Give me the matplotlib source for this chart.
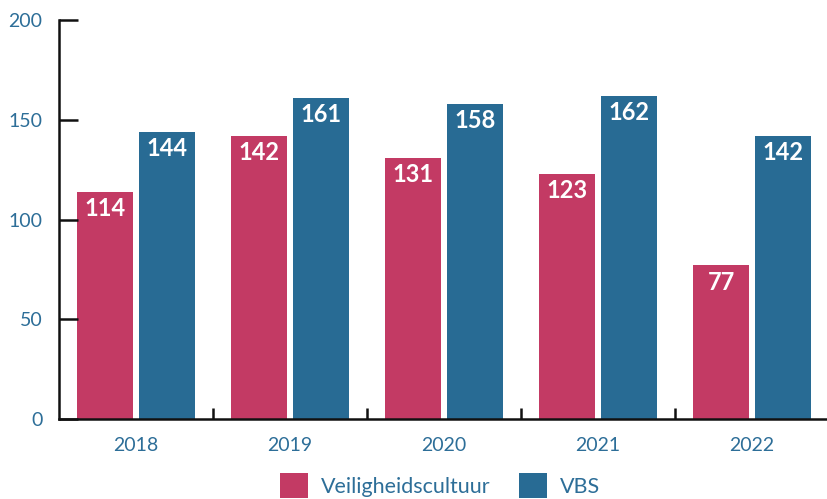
import numpy as np
import matplotlib
matplotlib.use("Agg")
import matplotlib.pyplot as plt

years = ["2018", "2019", "2020", "2021", "2022"]
veiligheidscultuur = [114, 142, 131, 123, 77]
vbs = [144, 161, 158, 162, 142]
y_ticks = [0, 50, 100, 150, 200]

PINK = "#C33A64"
BLUE = "#286B94"
TEXT = "#2D6E98"

plt.rcParams["font.family"] = ["Lato", "DejaVu Sans"]

fig = plt.figure(figsize=(8.27, 4.99), dpi=100)
ax = fig.add_axes([0.0713, 0.160, 0.931, 0.800])

x = np.arange(len(years))
w = 0.364
b1 = ax.bar(x - 0.2, veiligheidscultuur, w, color=PINK, label="Veiligheidscultuur")
b2 = ax.bar(x + 0.2, vbs, w, color=BLUE, label="VBS")

for bars in (b1, b2):
    for bar in bars:
        ax.annotate(f"{bar.get_height():.0f}",
                    (bar.get_x() + bar.get_width() / 2, bar.get_height()),
                    xytext=(0, -4), textcoords="offset points",
                    ha="center", va="top", fontsize=17, fontweight="bold",
                    color="white")

ax.set_xlim(-0.5, 4.5)
ax.set_ylim(0, 200)
ax.set_yticks(y_ticks)
ax.set_xticks(x)
ax.set_xticklabels(years)
ax.set_xticks(x[:-1] + 0.5, minor=True)

for side in ("top", "right"):
    ax.spines[side].set_visible(False)
for side in ("left", "bottom"):
    ax.spines[side].set_linewidth(1.8)
    ax.spines[side].set_color("#111111")

ax.tick_params(axis="y", direction="in", length=14, width=1.8, color="#111111",
               labelsize=14, labelcolor=TEXT, pad=12)
ax.tick_params(axis="x", which="major", length=0, labelsize=14,
               labelcolor=TEXT, pad=13)
ax.tick_params(axis="x", which="minor", direction="in", length=8, width=1.8,
               color="#111111")

fig.legend(handles=[b1, b2], loc="upper center", bbox_to_anchor=(0.532, 0.09),
           ncol=2, frameon=False, fontsize=15.5, labelcolor=TEXT,
           handlelength=1.3, handleheight=1.4, columnspacing=1.3,
           handletextpad=0.6)

fig.savefig("out.png", dpi=100)
